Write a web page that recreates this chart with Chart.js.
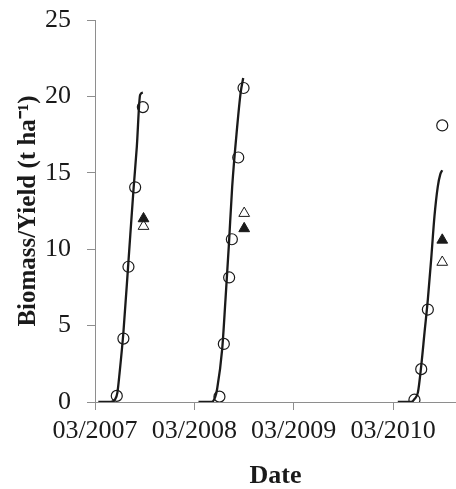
<!DOCTYPE html>
<html>
<head>
<meta charset="utf-8">
<script src="https://cdn.jsdelivr.net/npm/chart.js@4.4.1/dist/chart.umd.min.js"></script>
<style>
html,body{margin:0;padding:0;background:#fff;}
#wrap{width:456px;height:489px;position:relative;}
</style>
</head>
<body>
<div id="wrap"><canvas id="c" width="456" height="489"></canvas></div>
<script>
// x values are months since January 2007 (0 = 01/2007)
const tickValues = [2, 14, 26, 38];
const tickLabels = ['03/2007', '03/2008', '03/2009', '03/2010'];
const yTicks = [0, 5, 10, 15, 20, 25];

// simulated biomass curves
const sim2007X = [2.4, 3.9, 4.4, 4.7, 4.95, 5.43, 6.04, 6.65, 7.05, 7.45, 7.78];
const sim2007Y = [0, 0, 0.15, 0.6, 1.8, 4.55, 9.2, 13.9, 16.7, 20.1, 20.25];
const sim2008X = [14.5, 16.1, 16.5, 16.75, 17.36, 17.76, 18.16, 18.57, 19.17, 19.58, 19.9];
const sim2008Y = [0, 0, 0.3, 0.85, 3.46, 6.72, 10.2, 14.1, 18.0, 20.2, 21.2];
const sim2010X = [38.57, 40.2, 40.6, 41.0, 41.4, 41.8, 42.2, 42.6, 43.0, 43.4, 43.7, 43.94];
const sim2010Y = [0, 0, 0.2, 0.63, 2.37, 4.55, 6.72, 9.33, 12.16, 14.1, 14.9, 15.16];

// observed biomass (open circles)
const obsBiomassX = [4.63, 5.43, 6.04, 6.85, 7.78, 17.03, 17.56, 18.2, 18.53, 19.3, 19.94, 40.58, 41.4, 42.2, 43.94];
const obsBiomassY = [0.4, 4.15, 8.85, 14.05, 19.3, 0.35, 3.8, 8.15, 10.65, 16.0, 20.55, 0.15, 2.15, 6.05, 18.1];

// yields
const yieldFilledX = [7.86, 20.02, 43.94];
const yieldFilledY = [12.0, 11.35, 10.6];
const yieldOpenX = [7.86, 20.02, 43.94];
const yieldOpenY = [11.5, 12.35, 9.15];

const pts = (xs, ys) => xs.map((x, i) => ({x: x, y: ys[i]}));
const ink = '#1a1a1a';
const axisGrey = '#8e8e8e';
const serif = "'Liberation Serif', 'Times New Roman', serif";

const lineDs = (xs, ys) => ({
  data: pts(xs, ys), showLine: true, borderColor: ink, borderWidth: 2.3,
  pointRadius: 0, cubicInterpolationMode: 'monotone', fill: false, order: 3
});

new Chart(document.getElementById('c'), {
  type: 'scatter',
  data: {
    datasets: [
      lineDs(sim2007X, sim2007Y),
      lineDs(sim2008X, sim2008Y),
      lineDs(sim2010X, sim2010Y),
      {data: pts(obsBiomassX, obsBiomassY), pointStyle: 'circle', pointRadius: 5.5,
       borderColor: ink, borderWidth: 1.2, backgroundColor: 'rgba(0,0,0,0)', order: 1},
      {data: pts(yieldFilledX, yieldFilledY), pointStyle: 'triangle', pointRadius: 6.2,
       borderColor: ink, borderWidth: 1, backgroundColor: ink, order: 1},
      {data: pts(yieldOpenX, yieldOpenY), pointStyle: 'triangle', pointRadius: 6.2,
       borderColor: ink, borderWidth: 1, backgroundColor: '#fff', order: 1}
    ]
  },
  options: {
    responsive: false,
    animation: false,
    layout: {padding: 0, autoPadding: false},
    plugins: {legend: {display: false}, tooltip: {enabled: false}},
    scales: {
      x: {
        type: 'linear', min: 2, max: 45.6,
        afterBuildTicks: (s) => { s.ticks = tickValues.map(v => ({value: v})); },
        afterFit: (s) => { s.height = 87; s.paddingLeft = 0; s.paddingRight = 0; },
        grid: {drawOnChartArea: false, drawTicks: true, tickLength: 8, color: axisGrey, lineWidth: 1},
        border: {display: true, color: axisGrey, width: 1},
        ticks: {
          autoSkip: false, maxRotation: 0, padding: 6, color: ink,
          font: {family: serif, size: 26},
          callback: (v) => { const i = tickValues.indexOf(v); return i >= 0 ? tickLabels[i] : ''; }
        },
        title: {display: true, text: 'Date', color: ink,
          font: {family: serif, size: 26, weight: 'bold', lineHeight: 1.0}, padding: {top: 0, bottom: 0}}
      },
      y: {
        type: 'linear', min: 0, max: 25,
        afterBuildTicks: (s) => { s.ticks = yTicks.map(v => ({value: v})); },
        afterFit: (s) => { s.width = 95; s.paddingTop = 20; s.paddingBottom = 0; },
        grid: {drawOnChartArea: false, drawTicks: true, tickLength: 8, color: axisGrey, lineWidth: 1},
        border: {display: true, color: axisGrey, width: 1},
        ticks: {padding: 16, color: ink, font: {family: serif, size: 26}},
        title: {display: true, text: 'Biomass/Yield (t ha\u207B\u00B9)', color: ink,
          font: {family: serif, size: 25, weight: 'bold'}, padding: {top: 14, bottom: 0}}
      }
    }
  }
});
</script>
</body>
</html>
